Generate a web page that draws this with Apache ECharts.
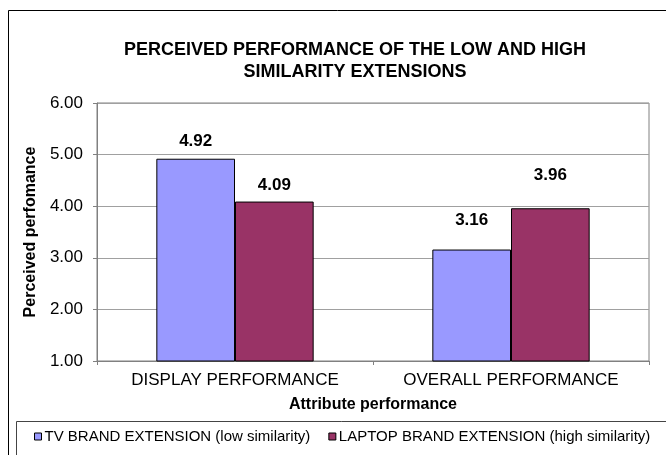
<!DOCTYPE html>
<html>
<head>
<meta charset="utf-8">
<script src="https://cdn.jsdelivr.net/npm/echarts@6/dist/echarts.min.js"></script>
<style>html,body{margin:0;padding:0;background:#fff}#c{width:666px;height:455px}</style>
</head>
<body>
<div id="c"></div>
<script>
var categories = ['DISPLAY PERFORMANCE', 'OVERALL PERFORMANCE'];
var seriesNames = ['TV BRAND EXTENSION (low similarity)', 'LAPTOP BRAND EXTENSION (high similarity)'];
var tvValues = [4.92, 3.16];
var laptopValues = [4.09, 3.96];
var yTicks = [1, 2, 3, 4, 5, 6];

// style-only: label distances above bars (as in the reference)
var labelDist = [[9, 21], [8, 24]];
var colors = ['#9999FF', '#993366'];
var FONT = 'Liberation Sans, Arial, sans-serif';

function mkData(vals, si) {
  return vals.map(function (v, i) {
    return { value: v, label: { distance: labelDist[si][i] } };
  });
}

var chart = echarts.init(document.getElementById('c'), null, { renderer: 'canvas' });
chart.setOption({
  animation: false,
  backgroundColor: '#fff',
  title: {
    text: 'PERCEIVED PERFORMANCE OF THE LOW AND HIGH\nSIMILARITY EXTENSIONS',
    left: 355, top: 39, textAlign: 'center', padding: 0,
    textStyle: { fontFamily: FONT, fontSize: 18, fontWeight: 'bold', color: '#000', lineHeight: 22 }
  },
  graphic: [
    { type: 'rect', shape: { x: 8.5, y: 10.5, width: 700, height: 500 }, style: { fill: 'none', stroke: '#000', lineWidth: 1 }, z: -10 },
    { type: 'rect', shape: { x: 16.5, y: 421.5, width: 700, height: 100 }, style: { fill: 'none', stroke: '#444', lineWidth: 1 }, z: -10 }
  ],
  legend: {
    left: 34, top: 429, padding: 0,
    itemWidth: 7, itemHeight: 7, itemGap: 18,
    icon: 'rect',
    textStyle: { fontFamily: FONT, fontSize: 15, color: '#000', padding: [0, 0, 0, -2] },
    data: seriesNames.map(function (n, i) {
      return { name: n, itemStyle: { color: colors[i], borderColor: '#000', borderWidth: 1 } };
    })
  },
  grid: { left: 97, right: 17, top: 103, bottom: 94, show: true, borderColor: '#808080', borderWidth: 1 },
  xAxis: {
    type: 'category', data: categories,
    name: 'Attribute performance', nameLocation: 'middle', nameGap: 36,
    nameTextStyle: { fontFamily: FONT, fontSize: 16, fontWeight: 'bold', color: '#000' },
    axisLine: { lineStyle: { color: '#808080' } },
    axisTick: { show: true, length: 4, lineStyle: { color: '#808080' } },
    axisLabel: { fontFamily: FONT, fontSize: 17, color: '#000', margin: 11, interval: 0, hideOverlap: false }
  },
  yAxis: {
    type: 'value', min: yTicks[0], max: yTicks[yTicks.length - 1], interval: 1,
    name: 'Perceived perfomance', nameLocation: 'middle', nameGap: 57, nameRotate: 90,
    nameTextStyle: { fontFamily: FONT, fontSize: 16, fontWeight: 'bold', color: '#000' },
    axisLine: { show: true, lineStyle: { color: '#808080' } },
    axisTick: { show: true, length: 4, lineStyle: { color: '#808080' } },
    axisLabel: { fontFamily: FONT, fontSize: 17, color: '#000', margin: 14, formatter: function (v) { return v.toFixed(2); } },
    splitLine: { show: true, lineStyle: { color: '#a0a0a0' } }
  },
  series: [
    {
      name: seriesNames[0], type: 'bar', data: mkData(tvValues, 0),
      barGap: '0%', barCategoryGap: '43%',
      itemStyle: { color: colors[0], borderColor: '#000', borderWidth: 1 },
      label: { show: true, position: 'top', fontFamily: FONT, fontSize: 17, fontWeight: 'bold', color: '#000', formatter: function (p) { return p.value.toFixed(2); } }
    },
    {
      name: seriesNames[1], type: 'bar', data: mkData(laptopValues, 1),
      barGap: '0%', barCategoryGap: '43%',
      itemStyle: { color: colors[1], borderColor: '#000', borderWidth: 1 },
      label: { show: true, position: 'top', fontFamily: FONT, fontSize: 17, fontWeight: 'bold', color: '#000', formatter: function (p) { return p.value.toFixed(2); } }
    }
  ]
});
</script>
</body>
</html>
